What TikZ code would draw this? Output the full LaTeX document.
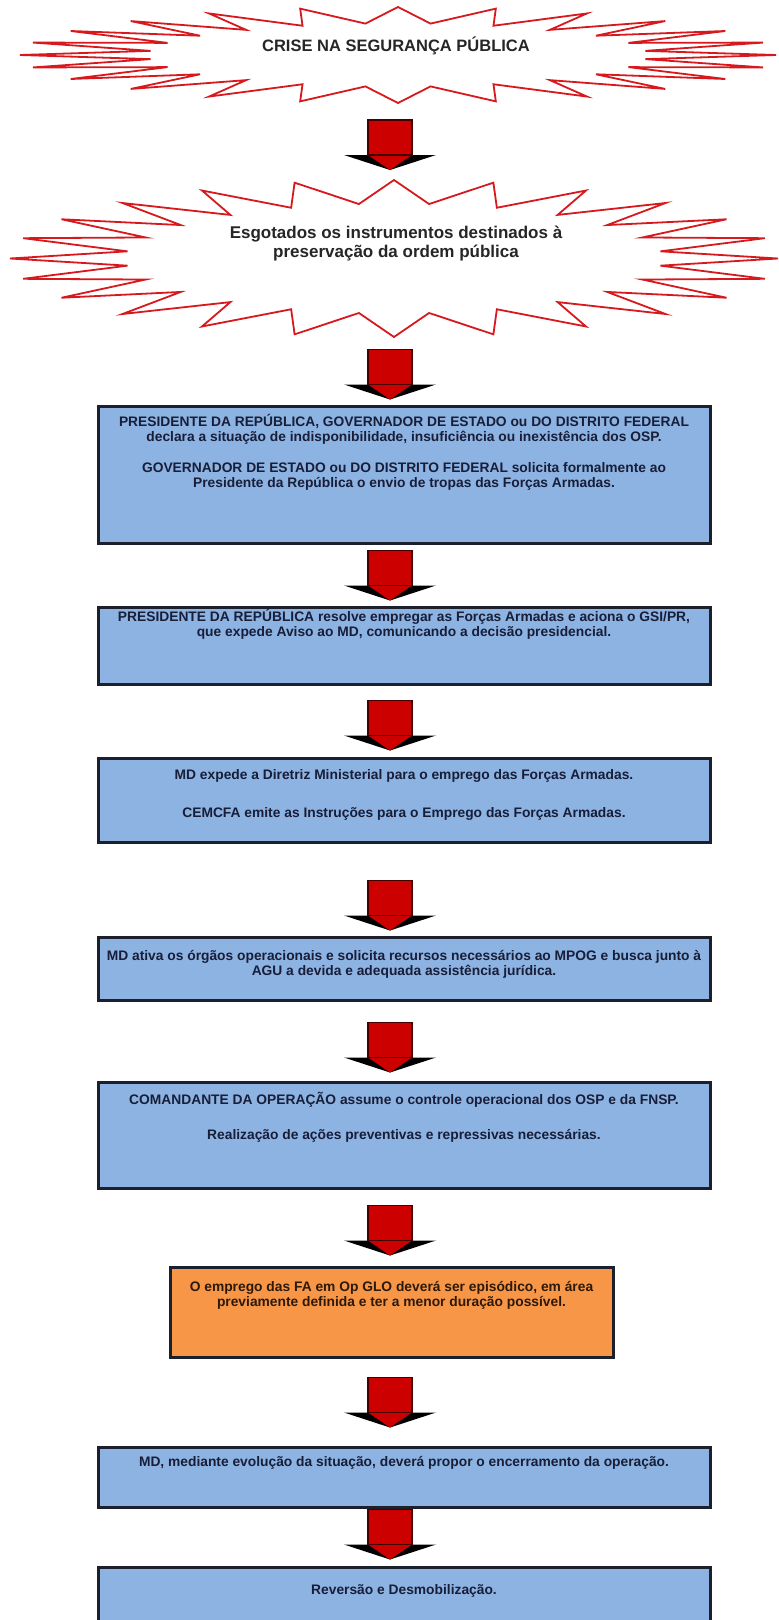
\documentclass[tikz,border=0pt]{standalone}
\usepackage{fontspec}
\setmainfont{Liberation Sans}
\usetikzlibrary{calc,positioning}
\definecolor{caixaazul}{RGB}{141,179,226}
\definecolor{caixalaranja}{RGB}{247,150,70}
\definecolor{bordaescura}{RGB}{28,32,44}
\definecolor{textoazul}{RGB}{24,30,56}
\definecolor{textomarrom}{RGB}{45,25,10}
\definecolor{estrelavermelha}{RGB}{215,25,30}
\definecolor{setavermelha}{RGB}{205,0,0}
\definecolor{setaborda}{RGB}{70,0,0}

% seta em bloco, ponta no ponto dado
\newcommand{\seta}[1]{%
  \begin{scope}[shift={(#1)}]
    \fill[black] (-46,-15) -- (46,-15) -- (0,0) -- cycle;
    \fill[setavermelha] (-22,-15) -- (22,-15) -- (0,0) -- cycle;
    \filldraw[fill=setavermelha,draw=setaborda,line width=1.2pt] (-22,-50) rectangle (22,-15);
  \end{scope}}

% explosao: centro, raio x, raio y, razao interna
\newcommand{\explosao}[4]{%
  \begin{scope}[shift={(#1)}]
    \filldraw[fill=white,draw=estrelavermelha,line width=1.8pt,line join=miter]
      plot[samples at={0,...,47}]
      ({#2*(mod(\x,2)==0?1:#4)*cos(7.5*\x)},{#3*(mod(\x,2)==0?1:#4)*sin(7.5*\x)}) -- cycle;
  \end{scope}}

\begin{document}
\begin{tikzpicture}[
  x=1pt,y=-1pt,
  caixa/.style={draw=bordaescura,fill=caixaazul,line width=3pt,minimum width=612},
  laranja/.style={caixa,fill=caixalaranja,minimum width=443},
  texto/.style={font=\fontsize{13.8}{15}\selectfont\bfseries,text=textoazul,
                align=center,inner sep=0pt},
  estrelatexto/.style={font=\fontsize{17}{19.5}\selectfont\bfseries,text=black!85,
                align=center,inner sep=0pt},
]
  \useasboundingbox (0,0) rectangle (779,1620);
  \coordinate (eixo) at (390,0);

  % Explosoes
  \coordinate (cris0) at (398,55);
  \explosao{cris0}{378}{48}{0.66}
  \node[estrelatexto,font=\fontsize{16.5}{19.5}\selectfont\bfseries] (crise) at (396,46)
    {CRISE NA SEGURANÇA PÚBLICA};

  \coordinate (esg0) at (394,258.5);
  \explosao{esg0}{384}{78.5}{0.70}
  \node[estrelatexto] (esgot) at (396,243.5)
    {Esgotados os instrumentos destinados à\\preservação da ordem pública};

  % Caixas
  \node[caixa,minimum height=137] (b1) at (404,474.5) {};
  \node[texto] (t1) at ($(b1.north)+(0,48)$)
    {PRESIDENTE DA REPÚBLICA, GOVERNADOR DE ESTADO ou DO DISTRITO FEDERAL\\
     declara a situação de indisponibilidade, insuficiência ou inexistência dos OSP.\\[16pt]
     GOVERNADOR DE ESTADO ou DO DISTRITO FEDERAL solicita formalmente ao\\
     Presidente da República o envio de tropas das Forças Armadas.};

  \node[caixa,minimum height=77] (b2) at (404,645.5) {};
  \node[texto] (t2) at ($(b2.north)+(0,19)$)
    {PRESIDENTE DA REPÚBLICA resolve empregar as Forças Armadas e aciona o GSI/PR,\\
     que expede Aviso ao MD, comunicando a decisão presidencial.};

  \node[caixa,minimum height=84] (b3) at (404,800) {};
  \node[texto] (t3) at ($(b3.north)+(0,38)$)
    {MD expede a Diretriz Ministerial para o emprego das Forças Armadas.\\[23pt]
     CEMCFA emite as Instruções para o Emprego das Forças Armadas.};

  \node[caixa,minimum height=63] (b4) at (404,968.5) {};
  \node[texto] (t4) at ($(b4.north)+(0,29)$)
    {MD ativa os órgãos operacionais e solicita recursos necessários ao MPOG e busca junto à\\
     AGU a devida e adequada assistência jurídica.};

  \node[caixa,minimum height=106] (b5) at (404,1135) {};
  \node[texto] (t5) at ($(b5.north)+(0,37)$)
    {COMANDANTE DA OPERAÇÃO assume o controle operacional dos OSP e da FNSP.\\[20pt]
     Realização de ações preventivas e repressivas necessárias.};

  \node[laranja,minimum height=90] (b6) at (391.5,1312) {};
  \node[texto,text=textomarrom] (t6) at ($(b6.north)+(0,29.5)$)
    {O emprego das FA em Op GLO deverá ser episódico, em área\\
     previamente definida e ter a menor duração possível.};

  \node[caixa,minimum height=60] (b7) at (404,1477) {};
  \node[texto] (t7) at ($(b7.north)+(0,17)$)
    {MD, mediante evolução da situação, deverá propor o encerramento da operação.};

  \node[caixa,minimum height=80] (b8) at (404,1607) {};
  \node[texto] (t8) at ($(b8.north)+(0,25)$) {Reversão e Desmobilização.};

  % Setas
  \seta{$(esg0.center -| eixo)+(0,-88.5)$}
  \seta{$(b1.north -| eixo)+(0,-5)$}
  \seta{$(b2.north -| eixo)+(0,-5)$}
  \seta{$(b3.north -| eixo)+(0,-6)$}
  \seta{$(b4.north -| eixo)+(0,-5)$}
  \seta{$(b5.north -| eixo)+(0,-8)$}
  \seta{$(b6.north -| eixo)+(0,-10)$}
  \seta{$(b7.north -| eixo)+(0,-18)$}
  \seta{$(b8.north -| eixo)+(0,-6)$}
\end{tikzpicture}
\end{document}
